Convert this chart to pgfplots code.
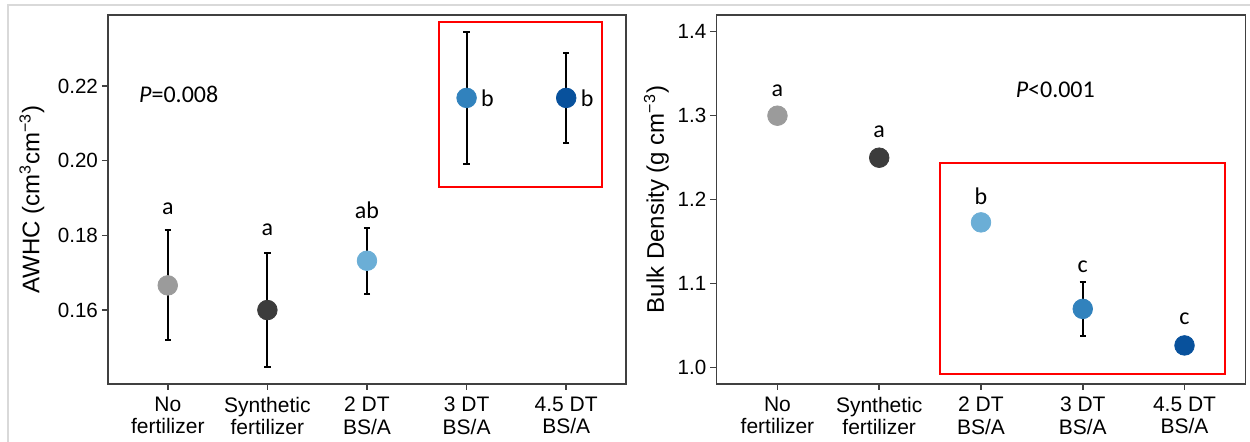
\documentclass[border=0pt]{standalone}
\usepackage{pgfplots}
\pgfplotsset{compat=1.18}
\usepackage{pgfplotstable}
\usepackage{fontspec}
\setmainfont{Liberation Sans}
\newfontfamily\calib{Carlito}
\definecolor{cNF}{HTML}{9B9B9B}
\definecolor{cSF}{HTML}{3C3C3C}
\definecolor{cD2}{HTML}{6BAED6}
\definecolor{cD3}{HTML}{3182BD}
\definecolor{cD4}{HTML}{08519C}
\definecolor{axc}{HTML}{404040}
\definecolor{framec}{HTML}{D9D9D9}

\pgfplotstableread{
x y ep em cls
0 0.1666 0.0147 0.0145 nf
1 0.1600 0.0152 0.0153 sf
2 0.1732 0.0089 0.0088 d2
3 0.2168 0.0177 0.0177 d3
4 0.2168 0.0121 0.0121 d4
}\awhc

\pgfplotstableread{
x y ep em cls
0 1.300 0.004 0.004 nf
1 1.250 0.004 0.004 sf
2 1.173 0.004 0.004 d2
3 1.070 0.032 0.032 d3
4 1.0265 0.004 0.004 d4
}\bulk

\tikzset{lett/.style={font=\calib\fontsize{12}{14}\selectfont, text=black}}

\pgfplotsset{
  myax/.style={
    scale only axis, height=184.5pt, anchor=south west,
    xmin=-0.6, xmax=4.6,
    xtick={0,1,2,3,4},
    xticklabels={{No\\fertilizer},{Synthetic\\fertilizer},{2 DT\\BS/A},{3 DT\\BS/A},{4.5 DT\\BS/A}},
    xticklabel style={align=center, font=\fontsize{10.5}{11.2}\selectfont, text=black},
    yticklabel style={font=\fontsize{10.3}{12}\selectfont, text=black, xshift=1.5pt},
    axis line style={axc, line width=0.75pt},
    tick style={axc, line width=0.75pt},
    major tick length=3pt, tick align=outside,
    xtick pos=bottom, ytick pos=left,
    ylabel style={font=\fontsize{12}{14}\selectfont, anchor=center},
    clip=false,
    /pgf/number format/assume math mode=true,
  },
  ebars/.style={draw=none, forget plot,
    error bars/.cd, y dir=both, y explicit,
    error bar style={draw=black, solid, line width=1pt},
    error mark options={rotate=90, draw=black, mark size=1.6pt, line width=1pt}},
  pts/.style={scatter, only marks, scatter src=explicit symbolic, mark size=4.9pt,
    scatter/classes={
      nf={mark=*, draw=cNF, fill=cNF},
      sf={mark=*, draw=cSF, fill=cSF},
      d2={mark=*, draw=cD2, fill=cD2},
      d3={mark=*, draw=cD3, fill=cD3},
      d4={mark=*, draw=cD4, fill=cD4}}}
}

\begin{document}
\begin{tikzpicture}
\useasboundingbox (0,0) rectangle (625pt,221pt);
\draw[framec, line width=0.6pt] (4pt,0) -- (4pt,218.5pt) -- (625pt,218.5pt);

\begin{axis}[myax, at={(54pt,29pt)}, width=259pt,
  ymin=0.1402, ymax=0.2390,
  ytick={0.16,0.18,0.20,0.22},
  yticklabel style={/pgf/number format/.cd, fixed, fixed zerofill, precision=2},
  ylabel={AWHC (cm\textsuperscript{3}cm\textsuperscript{−3})},
  ylabel style={at={(axis description cs:-0.147,0.5)}}]
\addplot[ebars] table[x=x, y=y, y error plus=ep, y error minus=em]{\awhc};
\addplot[pts] table[x=x, y=y, meta=cls]{\awhc};
\draw[red, line width=0.9pt] (axis cs:2.72,0.2372) rectangle (axis cs:4.36,0.1930);
\node[lett] at (axis cs:0,0.1871) {a};
\node[lett] at (axis cs:1,0.1815) {a};
\node[lett] at (axis cs:2,0.1866) {ab};
\node[lett] at (axis cs:3.21,0.2168) {b};
\node[lett] at (axis cs:4.21,0.2168) {b};
\node[lett] at (axis cs:0.11,0.2177) {\textit{P}=0.008};
\end{axis}

\begin{axis}[myax, at={(358.2pt,29pt)}, width=264.6pt,
  ymin=0.9806, ymax=1.4199,
  ytick={1.0,1.1,1.2,1.3,1.4},
  yticklabel style={/pgf/number format/.cd, fixed, fixed zerofill, precision=1},
  ylabel={Bulk Density (g cm\textsuperscript{−3})},
  ylabel style={at={(axis description cs:-0.1134,0.5)}}]
\addplot[ebars] table[x=x, y=y, y error plus=ep, y error minus=em]{\bulk};
\addplot[pts] table[x=x, y=y, meta=cls]{\bulk};
\draw[red, line width=0.9pt] (axis cs:1.60,1.244) rectangle (axis cs:4.40,0.9929);
\node[lett] at (axis cs:0,1.330) {a};
\node[lett] at (axis cs:1,1.2805) {a};
\node[lett] at (axis cs:2,1.204) {b};
\node[lett] at (axis cs:3,1.120) {c};
\node[lett] at (axis cs:4,1.058) {c};
\node[lett] at (axis cs:2.73,1.3306) {\textit{P}<0.001};
\end{axis}
\end{tikzpicture}
\end{document}
